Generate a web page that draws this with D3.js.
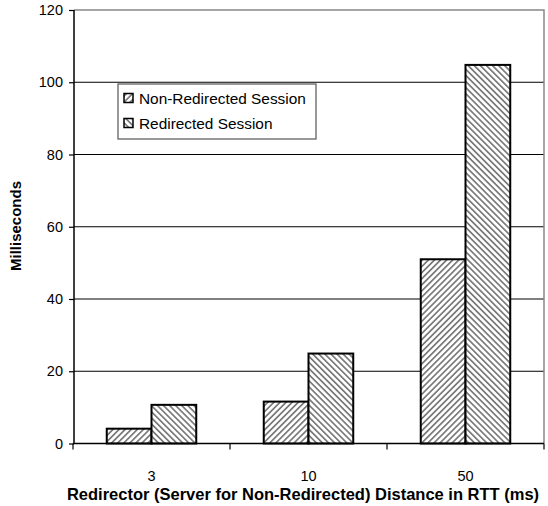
<!DOCTYPE html>
<html><head><meta charset="utf-8">
<script src="https://cdn.jsdelivr.net/npm/d3@7"></script>
<style>html,body{margin:0;padding:0;background:#fff;}svg{display:block;font-family:"Liberation Sans",Arial,sans-serif;}</style>
</head><body><svg id="c" width="548" height="506"></svg>
<script>
const categories = ["3", "10", "50"];
const seriesNames = ["Non-Redirected Session", "Redirected Session"];
const nonRedirected = [4.1, 11.6, 51.0];
const redirected = [10.7, 24.9, 104.8];
const yTicks = [0, 20, 40, 60, 80, 100, 120];
const yTitle = "Milliseconds";
const xTitle = "Redirector (Server for Non-Redirected) Distance in RTT (ms)";

const svg = d3.select("#c");
const L = 74, R = 544, T = 10, B = 443.5;
const y = d3.scaleLinear().domain([0, 120]).range([B, T]);
const x = d3.scaleBand().domain(categories).range([L - 1, R]).paddingInner(0.43).paddingOuter(0.215);
const xs = d3.scaleBand().domain(seriesNames).range([0, x.bandwidth()]);

const defs = svg.append("defs");
function pat(id, angle) {
  const p = defs.append("pattern").attr("id", id).attr("patternUnits", "userSpaceOnUse")
    .attr("width", 4.3).attr("height", 4.3).attr("patternTransform", `rotate(${angle})`);
  p.append("rect").attr("width", 4.3).attr("height", 4.3).attr("fill", "#fff");
  p.append("rect").attr("width", 1.7).attr("height", 4.3).attr("fill", "#7a7a7a");
}
pat("p0", 45);
pat("p1", -45);
const fills = { [seriesNames[0]]: "url(#p0)", [seriesNames[1]]: "url(#p1)" };

// gridlines
svg.append("g").selectAll("line").data(yTicks.filter(d => d > 0 && d < 120)).join("line")
  .attr("x1", L).attr("x2", R).attr("y1", d => y(d)).attr("y2", d => y(d))
  .attr("stroke", "#000").attr("stroke-width", 1);
// plot border top/right gray
svg.append("path").attr("d", `M${L},${y(120)}H${R}V${B}`).attr("fill", "none").attr("stroke", "#888").attr("stroke-width", 1.5);

// bars
const rows = categories.map((c, i) => ({ c, vals: [nonRedirected[i], redirected[i]] }));
const g = svg.append("g");
rows.forEach(r => {
  r.vals.forEach((v, j) => {
    const s = seriesNames[j];
    g.append("rect").attr("x", x(r.c) + xs(s)).attr("y", y(v))
      .attr("width", xs.bandwidth()).attr("height", y(0) - y(v))
      .attr("fill", fills[s]).attr("stroke", "#000").attr("stroke-width", 2);
  });
});

// y axis
const ya = svg.append("g").attr("transform", `translate(${L},0)`)
  .call(d3.axisLeft(y).tickValues(yTicks).tickSize(5).tickPadding(6).tickFormat(d3.format("d")));
ya.select(".domain").attr("stroke", "#000").attr("stroke-width", 1.5).attr("d", `M0,${T}V${B}`);
ya.selectAll(".tick line").attr("stroke", "#000").attr("stroke-width", 1.2);
ya.selectAll(".tick text").attr("font-size", 14.5).attr("fill", "#000").attr("font-family", "Liberation Sans, Arial, sans-serif");

// x axis
const xa = svg.append("g").attr("transform", `translate(0,${B})`);
xa.append("line").attr("x1", L - 1).attr("x2", R).attr("stroke", "#000").attr("stroke-width", 1.5);
const step = x.step();
xa.selectAll("line.tk").data(d3.range(categories.length + 1)).join("line").attr("class", "tk")
  .attr("x1", i => (L - 1) + i * step).attr("x2", i => (L - 1) + i * step)
  .attr("y1", 0).attr("y2", 6).attr("stroke", "#000").attr("stroke-width", 1.2);
xa.selectAll("text").data(categories).join("text")
  .attr("x", d => x(d) + x.bandwidth() / 2).attr("y", 37)
  .attr("text-anchor", "middle").attr("font-size", 14.5).text(d => d);

// titles
svg.append("text").attr("transform", `translate(21,226) rotate(-90)`).attr("text-anchor", "middle")
  .attr("font-size", 15).attr("font-weight", "bold").text(yTitle);
svg.append("text").attr("x", 303).attr("y", 500).attr("text-anchor", "middle")
  .attr("font-size", 16.5).attr("font-weight", "bold").text(xTitle);

// legend
const lg = svg.append("g");
lg.append("rect").attr("x", 118).attr("y", 84).attr("width", 198).attr("height", 55)
  .attr("fill", "#fff").attr("stroke", "#555").attr("stroke-width", 1.2);
seriesNames.forEach((s, i) => {
  const yy = 98 + i * 25;
  lg.append("rect").attr("x", 124).attr("y", yy - 4.5).attr("width", 9).attr("height", 9)
    .attr("fill", fills[s]).attr("stroke", "#000").attr("stroke-width", 1.5);
  lg.append("text").attr("x", 139).attr("y", yy + 5.5).attr("font-size", 15.4).text(s);
});
</script></body></html>
